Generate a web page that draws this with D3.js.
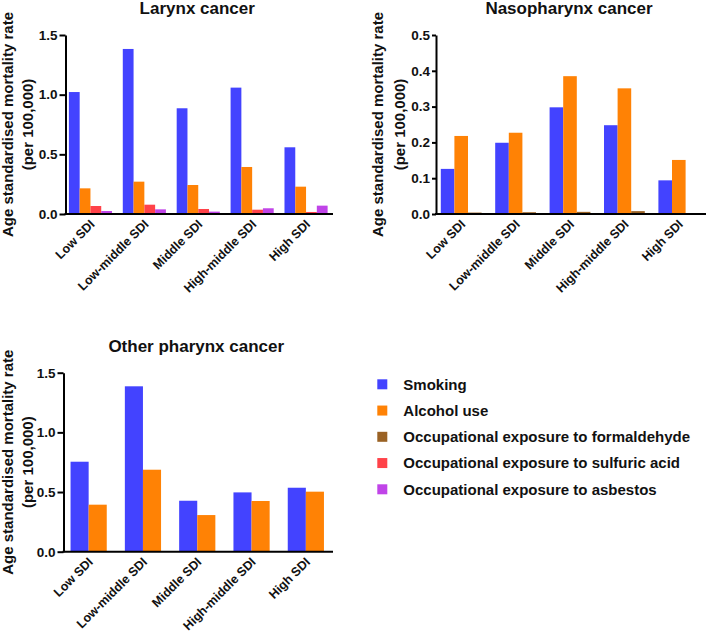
<!DOCTYPE html>
<html>
<head>
<meta charset="utf-8">
<script src="https://cdn.jsdelivr.net/npm/d3@7/dist/d3.min.js"></script>
<style>
  body { margin: 0; background: #fff; }
  svg { display: block; font-family: "Liberation Sans", Arial, sans-serif; }
</style>
</head>
<body>
<script>
// ---------- DATA ----------
const categories = ["Low SDI", "Low-middle SDI", "Middle SDI", "High-middle SDI", "High SDI"];
const seriesNames = [
  "Smoking",
  "Alcohol use",
  "Occupational exposure to formaldehyde",
  "Occupational exposure to sulfuric acid",
  "Occupational exposure to asbestos"
];
const seriesColors = ["#4343FF", "#FF8205", "#9A6224", "#FF4249", "#C044E8"];

// Larynx cancer
const larynxSmoking  = [1.022, 1.383, 0.886, 1.059, 0.559];
const larynxAlcohol  = [0.215, 0.271, 0.243, 0.394, 0.229];
const larynxSulfuric = [0.067, 0.078, 0.042, 0.036, 0.017];
const larynxAsbestos = [0.025, 0.039, 0.020, 0.048, 0.070];

// Nasopharynx cancer
const nasoSmoking      = [0.126, 0.199, 0.298, 0.248, 0.094];
const nasoAlcohol      = [0.218, 0.227, 0.385, 0.351, 0.151];
const nasoFormaldehyde = [0.004, 0.005, 0.006, 0.008, 0.000];

// Other pharynx cancer
const otherSmoking = [0.754, 1.386, 0.427, 0.497, 0.536];
const otherAlcohol = [0.394, 0.687, 0.307, 0.425, 0.503];

const larynxTicks = [0, 0.5, 1.0, 1.5];
const nasoTicks   = [0, 0.1, 0.2, 0.3, 0.4, 0.5];
const otherTicks  = [0, 0.5, 1.0, 1.5];

const yTitle1 = "Age standardised mortality rate";
const yTitle2 = "(per 100,000)";

// ---------- LAYOUT ----------
const svg = d3.select("body").append("svg").attr("width", 708).attr("height", 632);

const panels = [
  { title: "Larynx cancer", max: 1.5, ticks: larynxTicks,
    series: [
      { idx: 0, values: larynxSmoking },
      { idx: 1, values: larynxAlcohol },
      { idx: 3, values: larynxSulfuric },
      { idx: 4, values: larynxAsbestos }
    ],
    x0: 65.5, x1: 333, yTop: 35, yBot: 214, titleY: 14, lab1: 12.5, lab2: 32.5, tick: 6 },
  { title: "Nasopharynx cancer", max: 0.5, ticks: nasoTicks,
    series: [
      { idx: 0, values: nasoSmoking },
      { idx: 1, values: nasoAlcohol },
      { idx: 2, values: nasoFormaldehyde }
    ],
    x0: 436, x1: 706, yTop: 35, yBot: 214, titleY: 14, lab1: 383, lab2: 405, tick: 4 },
  { title: "Other pharynx cancer", max: 1.5, ticks: otherTicks,
    series: [
      { idx: 0, values: otherSmoking },
      { idx: 1, values: otherAlcohol }
    ],
    x0: 63.5, x1: 333, yTop: 372.7, yBot: 551.7, titleY: 352, lab1: 12.5, lab2: 32.5, tick: 6 }
];

function drawPanel(p) {
  const g = svg.append("g");
  const y = d3.scaleLinear().domain([0, p.max]).range([p.yBot, p.yTop]);
  const x = d3.scaleBand().domain(categories).range([p.x0 - 2, p.x1]).padding(0);
  const n = p.series.length;
  const slot = x.bandwidth() / (n + 1);
  const xs = d3.scaleBand().domain(d3.range(n)).range([-slot * n / 2, slot * n / 2]).padding(0);

  // bars
  p.series.forEach((s, si) => {
    g.append("g").selectAll("rect")
      .data(s.values.map((v, i) => ({ cat: categories[i], v })))
      .join("rect")
      .attr("x", d => x(d.cat) + x.bandwidth() / 2 + xs(si))
      .attr("width", xs.bandwidth())
      .attr("y", d => y(d.v))
      .attr("height", d => p.yBot - y(d.v))
      .attr("fill", seriesColors[s.idx]);
  });

  // y axis
  const ya = g.append("g")
    .attr("transform", `translate(${p.x0},0)`)
    .call(d3.axisLeft(y).tickValues(p.ticks).tickFormat(d3.format(".1f"))
      .tickSize(p.tick).tickSizeOuter(0).tickPadding(2));
  ya.select(".domain").attr("stroke", "#000").attr("stroke-width", 2);
  ya.selectAll(".tick line").attr("stroke", "#000").attr("stroke-width", 2);
  ya.selectAll(".tick text").attr("fill", "#111").attr("font-size", 13.5)
    .attr("font-weight", "bold").attr("font-family", "Liberation Sans, Arial, sans-serif");

  // x axis line (no ticks)
  const xa = g.append("g")
    .attr("transform", `translate(0,${p.yBot})`)
    .call(d3.axisBottom(x).tickSize(0).tickSizeOuter(0).tickFormat(""));
  xa.select(".domain").attr("d", `M${p.x0 - 1},0H${p.x1}`)
    .attr("stroke", "#000").attr("stroke-width", 2);

  // category labels
  g.append("g").selectAll("text")
    .data(categories)
    .join("text")
    .attr("transform", d => `translate(${x(d) + x.bandwidth() / 2 + 5},${p.yBot + 11}) rotate(-45)`)
    .attr("text-anchor", "end")
    .attr("font-size", 12.5)
    .attr("font-weight", "bold")
    .attr("fill", "#111")
    .text(d => d);

  // title
  g.append("text")
    .attr("x", (p.x0 + p.x1) / 2 - 2)
    .attr("y", p.titleY)
    .attr("text-anchor", "middle")
    .attr("font-size", 17)
    .attr("font-weight", "bold")
    .attr("fill", "#111")
    .text(p.title);

  // y-axis title (two lines)
  const cy = (p.yTop + p.yBot) / 2;
  [[yTitle1, p.lab1], [yTitle2, p.lab2]].forEach(([t, bx]) => {
    g.append("text")
      .attr("transform", `translate(${bx},${cy}) rotate(-90)`)
      .attr("text-anchor", "middle")
      .attr("font-size", 15)
      .attr("font-weight", "bold")
      .attr("fill", "#111")
      .text(t);
  });
}

panels.forEach(drawPanel);

// legend
const legend = svg.append("g");
const legY = d3.scalePoint().domain(seriesNames).range([384.3, 489.3]);
legend.selectAll("rect")
  .data(seriesNames)
  .join("rect")
  .attr("x", 377.3)
  .attr("y", d => legY(d) - 5)
  .attr("width", 10)
  .attr("height", 10)
  .attr("fill", (d, i) => seriesColors[i]);
legend.selectAll("text")
  .data(seriesNames)
  .join("text")
  .attr("x", 403.3)
  .attr("y", d => legY(d))
  .attr("dy", "0.36em")
  .attr("font-size", 15)
  .attr("font-weight", "bold")
  .attr("fill", "#111")
  .text(d => d);
</script>
</body>
</html>
